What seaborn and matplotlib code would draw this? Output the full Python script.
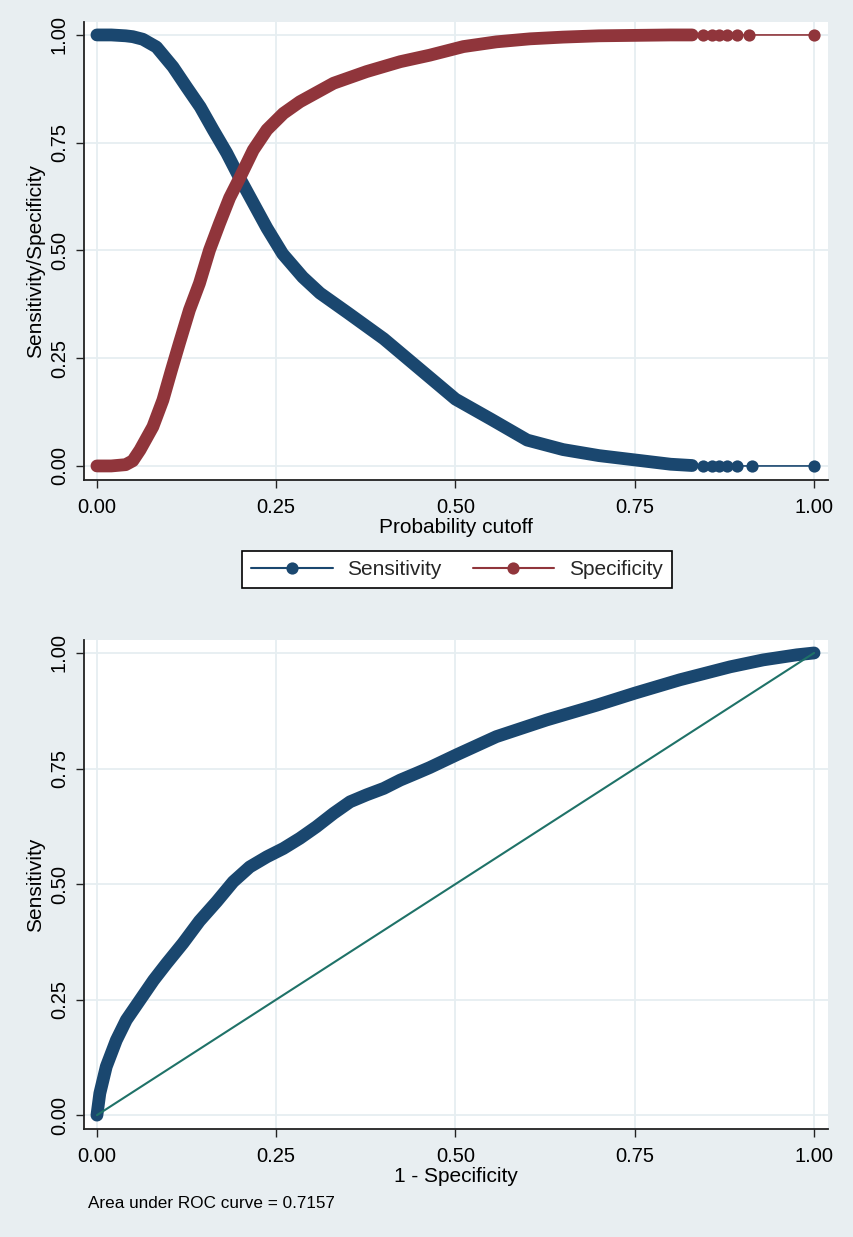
import numpy as np
import matplotlib
matplotlib.use("Agg")
import matplotlib.pyplot as plt
from matplotlib.lines import Line2D
import seaborn as sns

# Sensitivity / specificity by probability cutoff
sens_cut = [0.0, 0.02, 0.04, 0.05, 0.064, 0.083, 0.106, 0.125, 0.144, 0.162, 0.181,
            0.199, 0.218, 0.237, 0.259, 0.287, 0.311, 0.35, 0.40, 0.45, 0.50, 0.55,
            0.60, 0.65, 0.70, 0.75, 0.80, 0.83, 0.845, 0.857, 0.868, 0.878, 0.893,
            0.914, 1.0]
sens_val = [1.0, 1.0, 0.998, 0.996, 0.99, 0.972, 0.926, 0.879, 0.833, 0.78, 0.726,
            0.668, 0.61, 0.552, 0.492, 0.438, 0.401, 0.355, 0.295, 0.225, 0.155, 0.108,
            0.06, 0.038, 0.024, 0.014, 0.004, 0.001, 0.0, 0.0, 0.0, 0.0, 0.0,
            0.0, 0.0]

spec_cut = [0.0, 0.02, 0.04, 0.05, 0.06, 0.078, 0.092, 0.104, 0.115, 0.129, 0.143,
            0.157, 0.171, 0.185, 0.199, 0.218, 0.237, 0.26, 0.283, 0.33, 0.376, 0.423,
            0.464, 0.511, 0.557, 0.604, 0.65, 0.70, 0.75, 0.80, 0.83, 0.845, 0.857,
            0.868, 0.878, 0.893, 0.909, 1.0]
spec_val = [0.0, 0.0, 0.003, 0.012, 0.037, 0.091, 0.153, 0.223, 0.285, 0.362, 0.424,
            0.501, 0.563, 0.622, 0.668, 0.733, 0.78, 0.818, 0.845, 0.888, 0.915, 0.938,
            0.953, 0.973, 0.984, 0.991, 0.995, 0.998, 0.999, 1.0, 1.0, 1.0, 1.0,
            1.0, 1.0, 1.0, 1.0, 1.0]

# ROC curve
roc_fpr = [0.0, 0.004, 0.013, 0.027, 0.041, 0.06, 0.079, 0.097, 0.12, 0.143, 0.167,
           0.19, 0.213, 0.237, 0.26, 0.283, 0.306, 0.33, 0.353, 0.376, 0.40, 0.423,
           0.446, 0.464, 0.502, 0.557, 0.627, 0.697, 0.75, 0.813, 0.883, 0.929,
           0.976, 1.0]
roc_sens = [0.0, 0.047, 0.105, 0.162, 0.206, 0.249, 0.292, 0.328, 0.372, 0.42, 0.462,
            0.505, 0.537, 0.559, 0.577, 0.599, 0.624, 0.653, 0.678, 0.693, 0.707, 0.725,
            0.74, 0.752, 0.78, 0.819, 0.855, 0.887, 0.913, 0.942, 0.97, 0.985,
            0.996, 1.0]
ref_line = [0.0, 1.0]

ticks = [0.0, 0.25, 0.5, 0.75, 1.0]
tick_labels = ["0.00", "0.25", "0.50", "0.75", "1.00"]
auc_text = "Area under ROC curve = 0.7157"

NAVY = "#1a476f"
MAROON = "#90353b"
TEAL = "#1f7268"
BG = "#e8eef1"
GRID = "#e6eef1"
BAND = 9.2   # width of the dense marker band, pt
MSIZE = 8.8

sns.set_theme(style="white")
plt.rcParams["font.family"] = ["Liberation Sans", "DejaVu Sans"]

fig = plt.figure(figsize=(8.54, 12.37), dpi=100, facecolor=BG)
ax1 = fig.add_axes([0.0984, 0.6120, 0.8712, 0.3702])
ax2 = fig.add_axes([0.0984, 0.0873, 0.8712, 0.3953])


def style_axis(ax, ylim, xlabel, ylabel, ylab_y):
    ax.set_facecolor("white")
    ax.set_xlim(-0.018, 1.0195)
    ax.set_ylim(*ylim)
    ax.set_xticks(ticks)
    ax.set_xticklabels(tick_labels)
    ax.set_yticks(ticks)
    ax.set_yticklabels(tick_labels, rotation=90, va="center")
    ax.grid(True, color=GRID, lw=1.3)
    ax.set_axisbelow(True)
    for s in ["top", "right"]:
        ax.spines[s].set_visible(False)
    for s in ["left", "bottom"]:
        ax.spines[s].set_color("#222222")
        ax.spines[s].set_linewidth(1.3)
    ax.tick_params(axis="both", direction="out", length=6, width=1,
                   color="#222222", labelsize=14.5, labelcolor="black",
                   left=True, bottom=True)
    ax.tick_params(axis="y", pad=5)
    ax.tick_params(axis="x", pad=7)
    ax.set_xlabel(xlabel, fontsize=15, labelpad=1, color="black")
    ax.set_ylabel(ylabel, fontsize=15, color="black")
    ax.yaxis.set_label_coords(-0.053, ylab_y)


def draw_curve(ax, x, y, color):
    x = np.array(x)
    y = np.array(y)
    dense = x <= 0.83
    # thick band stands in for the many overlapping markers
    sns.lineplot(x=x[dense], y=y[dense], ax=ax, color=color, lw=BAND,
                 solid_capstyle="round", estimator=None, sort=False)
    sns.lineplot(x=x, y=y, ax=ax, color=color, lw=1.2, estimator=None, sort=False)
    ax.plot(x[~dense], y[~dense], "o", color=color, markersize=MSIZE,
            markeredgewidth=0)


# top panel
draw_curve(ax1, sens_cut, sens_val, NAVY)
draw_curve(ax1, spec_cut, spec_val, MAROON)

style_axis(ax1, (-0.0325, 1.030), "Probability cutoff", "Sensitivity/Specificity",
           0.478)

handles = [
    Line2D([], [], color=NAVY, lw=1.5, marker="o", markersize=MSIZE, markeredgewidth=0),
    Line2D([], [], color=MAROON, lw=1.5, marker="o", markersize=MSIZE, markeredgewidth=0),
]
leg = fig.legend(handles, ["Sensitivity", "Specificity"], loc="center",
                 bbox_to_anchor=(0.535, 0.5396), ncol=2, fontsize=15,
                 frameon=True, fancybox=False, edgecolor="black", framealpha=1,
                 handlelength=3.9, handletextpad=0.7, columnspacing=1.5,
                 borderpad=0.45, numpoints=1)
leg.get_frame().set_linewidth(1.2)

# bottom panel
sns.lineplot(x=roc_fpr, y=roc_sens, ax=ax2, color=NAVY, lw=BAND,
             solid_capstyle="round", estimator=None, sort=False)
sns.lineplot(x=ref_line, y=ref_line, ax=ax2, color=TEAL, lw=1.5,
             estimator=None, sort=False)

style_axis(ax2, (-0.030, 1.028), "1 - Specificity", "Sensitivity", 0.50)

fig.text(88 / 854, 1 - 1203 / 1237, auc_text, fontsize=12.3, va="center",
         ha="left", color="black")

fig.savefig("out.png", dpi=100, facecolor=BG)
